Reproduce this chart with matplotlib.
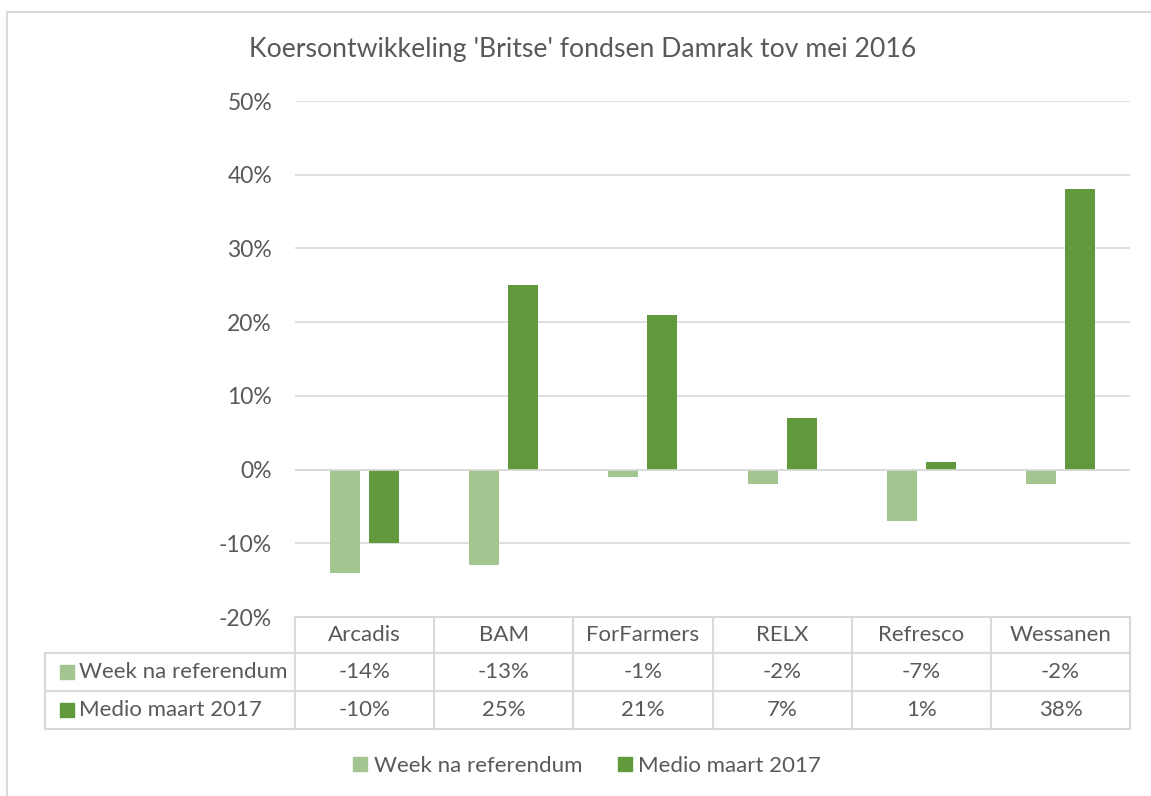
import matplotlib
matplotlib.use("Agg")
import matplotlib.pyplot as plt
import matplotlib.transforms as mtrans
from matplotlib.patches import Patch
import numpy as np

# data
categories = ["Arcadis", "BAM", "ForFarmers", "RELX", "Refresco", "Wessanen"]
week_na = [-14, -13, -1, -2, -7, -2]
medio_maart = [-10, 25, 21, 7, 1, 38]
series_names = ["Week na referendum", "Medio maart 2017"]
yticks = [-20, -10, 0, 10, 20, 30, 40, 50]

LIGHT = "#A3C58F"
DARK = "#63993D"
TXT = "#595959"
GRID = "#D9D9D9"
FS = 16

plt.rcParams["font.family"] = ["Lato", "DejaVu Sans"]

W, H = 1151, 796
fig = plt.figure(figsize=(W / 100, H / 100), dpi=100)

# overlay in pixel coords (y down)
ov = fig.add_axes([0, 0, 1, 1])
ov.set_xlim(0, W)
ov.set_ylim(H, 0)
ov.axis("off")

# chart border (left + top visible)
ov.plot([7, 7], [12, H], color=GRID, lw=1.5)
ov.plot([7, W], [12, 12], color=GRID, lw=1.5)

x0, x1 = 295, 1130
y_top, y_bot = 101, 617
ax = fig.add_axes([x0 / W, (H - y_bot) / H, (x1 - x0) / W, (y_bot - y_top) / H])
ax.set_zorder(2)
ax.patch.set_alpha(0)

x = np.arange(len(categories))
bw = 0.216
off = 0.14
ax.bar(x - off, week_na, bw, color=LIGHT, zorder=3)
ax.bar(x + off, medio_maart, bw, color=DARK, zorder=3)

ax.set_xlim(-0.5, len(categories) - 0.5)
ax.set_ylim(-20, 50)
ax.set_yticks(yticks)
ax.set_yticklabels([f"{t}%" for t in yticks], color=TXT, fontsize=16.5)
ax.tick_params(axis="y", length=0, pad=16.5)
ax.set_xticks([])
ax.grid(axis="y", color=GRID, lw=1.2, zorder=0)
for s in ax.spines.values():
    s.set_visible(False)
ax.axhline(0, color=GRID, lw=1.2, zorder=4)

fig.text(583 / W, 1 - 50 / H, "Koersontwikkeling 'Britse' fondsen Damrak tov mei 2016",
         ha="center", va="center", fontsize=19.2, color=TXT)

# data table under the axis
tr = mtrans.blended_transform_factory(ax.transData, ov.transData)
rows_y = [617, 653, 691, 729]
lbl_x = 45
for yy in rows_y:
    xs = lbl_x if yy != rows_y[0] else x0
    ov.plot([xs, x1], [yy, yy], color=GRID, lw=1.5)
ov.plot([lbl_x, lbl_x], [rows_y[1], rows_y[3]], color=GRID, lw=1.5)
for b in np.arange(len(categories) + 1) - 0.5:
    ax.plot([b, b], [rows_y[0], rows_y[3]], color=GRID, lw=1.5, transform=tr, clip_on=False)

for i, c in enumerate(categories):
    ax.text(i, (rows_y[0] + rows_y[1]) / 2, c, transform=tr, ha="center", va="center",
            fontsize=FS, color=TXT)
    ax.text(i, (rows_y[1] + rows_y[2]) / 2, f"{week_na[i]}%", transform=tr, ha="center",
            va="center", fontsize=FS, color=TXT)
    ax.text(i, (rows_y[2] + rows_y[3]) / 2, f"{medio_maart[i]}%", transform=tr, ha="center",
            va="center", fontsize=FS, color=TXT)

for r, (name, col) in enumerate(zip(series_names, [LIGHT, DARK])):
    yc = (rows_y[r + 1] + rows_y[r + 2]) / 2
    ov.plot(67, yc, "s", ms=10, color=col)
    ov.text(79, yc, name, ha="left", va="center", fontsize=FS, color=TXT)

handles = [Patch(color=LIGHT), Patch(color=DARK)]
fig.legend(handles, series_names, loc="center", bbox_to_anchor=(587 / W, 1 - 766 / H),
           ncol=2, frameon=False, fontsize=FS, labelcolor=TXT, handlelength=0.63,
           handleheight=0.63, handletextpad=0.3, columnspacing=1.6)

fig.savefig("out.png", dpi=100)
